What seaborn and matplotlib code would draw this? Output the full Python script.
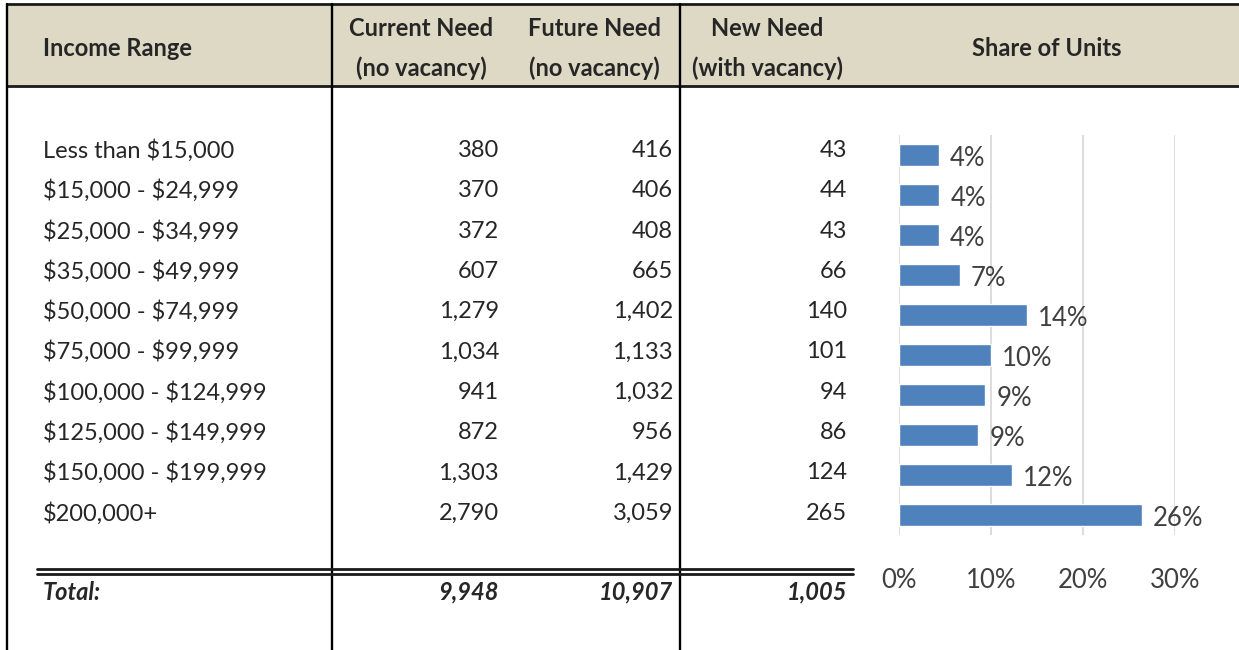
import numpy as np
import matplotlib
matplotlib.use('Agg')
import matplotlib.pyplot as plt
import seaborn as sns

# dados da tabela
faixas = ['Less than $15,000', '$15,000 - $24,999', '$25,000 - $34,999', '$35,000 - $49,999',
          '$50,000 - $74,999', '$75,000 - $99,999', '$100,000 - $124,999', '$125,000 - $149,999',
          '$150,000 - $199,999', '$200,000+']
current_need = [380, 370, 372, 607, 1279, 1034, 941, 872, 1303, 2790]
future_need = [416, 406, 408, 665, 1402, 1133, 1032, 956, 1429, 3059]
new_need = [43, 44, 43, 66, 140, 101, 94, 86, 124, 265]
share_units = [4.3, 4.4, 4.3, 6.6, 13.9, 10.0, 9.4, 8.6, 12.3, 26.4]
totais = [9948, 10907, 1005]
share_ticks = [0, 10, 20, 30]

sns.set_style('white')
plt.rcParams['font.family'] = ['Lato', 'DejaVu Sans']

W, H = 1239, 650
fig = plt.figure(figsize=(W / 100, H / 100), dpi=100)

# eixo "tabela" em coordenadas de pixel
tab = fig.add_axes([0, 0, 1, 1])
tab.set_xlim(0, W)
tab.set_ylim(H, 0)
tab.axis('off')

# cabecalho
tab.fill_between([7, W], 4, 86, color='#DDD9C4', lw=0)
tab.plot([7, W], [4, 4], color='#1a1a1a', lw=2)
tab.plot([7, W], [86, 86], color='#1a1a1a', lw=2)
for x in [7, 332, 680]:
    tab.plot([x, x], [4, H], color='black', lw=1.7)

fs_h = 17
kw_h = dict(fontsize=fs_h, fontweight='bold', va='center', parse_math=False)
tab.text(43, 48, 'Income Range', ha='left', **kw_h)
tab.text(421, 28, 'Current Need', ha='center', **kw_h)
tab.text(421, 68, '(no vacancy)', ha='center', **kw_h)
tab.text(594, 28, 'Future Need', ha='center', **kw_h)
tab.text(594, 68, '(no vacancy)', ha='center', **kw_h)
tab.text(767, 28, 'New Need', ha='center', **kw_h)
tab.text(767, 68, '(with vacancy)', ha='center', **kw_h)
tab.text(1047, 48, 'Share of Units', ha='center', **kw_h)

# linhas da tabela
fs = 17
kw = dict(fontsize=fs, va='center', parse_math=False)
for i, faixa in enumerate(faixas):
    y = 150.5 + i * 40.3
    tab.text(43, y, faixa, ha='left', **kw)
    tab.text(499, y, f'{current_need[i]:,}', ha='right', **kw)
    tab.text(673, y, f'{future_need[i]:,}', ha='right', **kw)
    tab.text(847, y, f'{new_need[i]:,}', ha='right', **kw)

# linha dupla e total
tab.plot([37, 853], [569, 569], color='#1a1a1a', lw=2)
tab.plot([37, 853], [573.5, 573.5], color='#1a1a1a', lw=2)
tab.text(43, 592, 'Total:', fontweight='bold', fontstyle='italic', ha='left', **kw)
for x, v in zip([499, 673, 847], totais):
    tab.text(x, 592, f'{v:,}', fontweight='bold', fontstyle='italic', ha='right', **kw)

# grafico de barras
ax = fig.add_axes([899 / W, (H - 535) / H, 276 / W, 400 / H])
sns.barplot(x=share_units, y=faixas, orient='h', color='#4F81BD', width=0.57,
            saturation=1, ax=ax)
ax.set_xlim(0, 30)
ax.set_ylim(9.5, -0.5)
ax.set_xticks(share_ticks)
ax.set_xticklabels([f'{t}%' for t in share_ticks], fontsize=18.5, color='#404040')
ax.tick_params(axis='x', length=0, pad=24)
ax.set_yticks([])
ax.set_xlabel('')
ax.set_ylabel('')
for s in ax.spines.values():
    s.set_visible(False)
ax.grid(axis='x', color='#D9D9D9', lw=1.3)
ax.set_axisbelow(True)
for i, v in enumerate(share_units):
    ax.text(v + 1.2, i + 0.1, f'{round(v):.0f}%', fontsize=18.5, color='#404040',
            va='center', ha='left', clip_on=False)

fig.savefig('out.png', dpi=100)
